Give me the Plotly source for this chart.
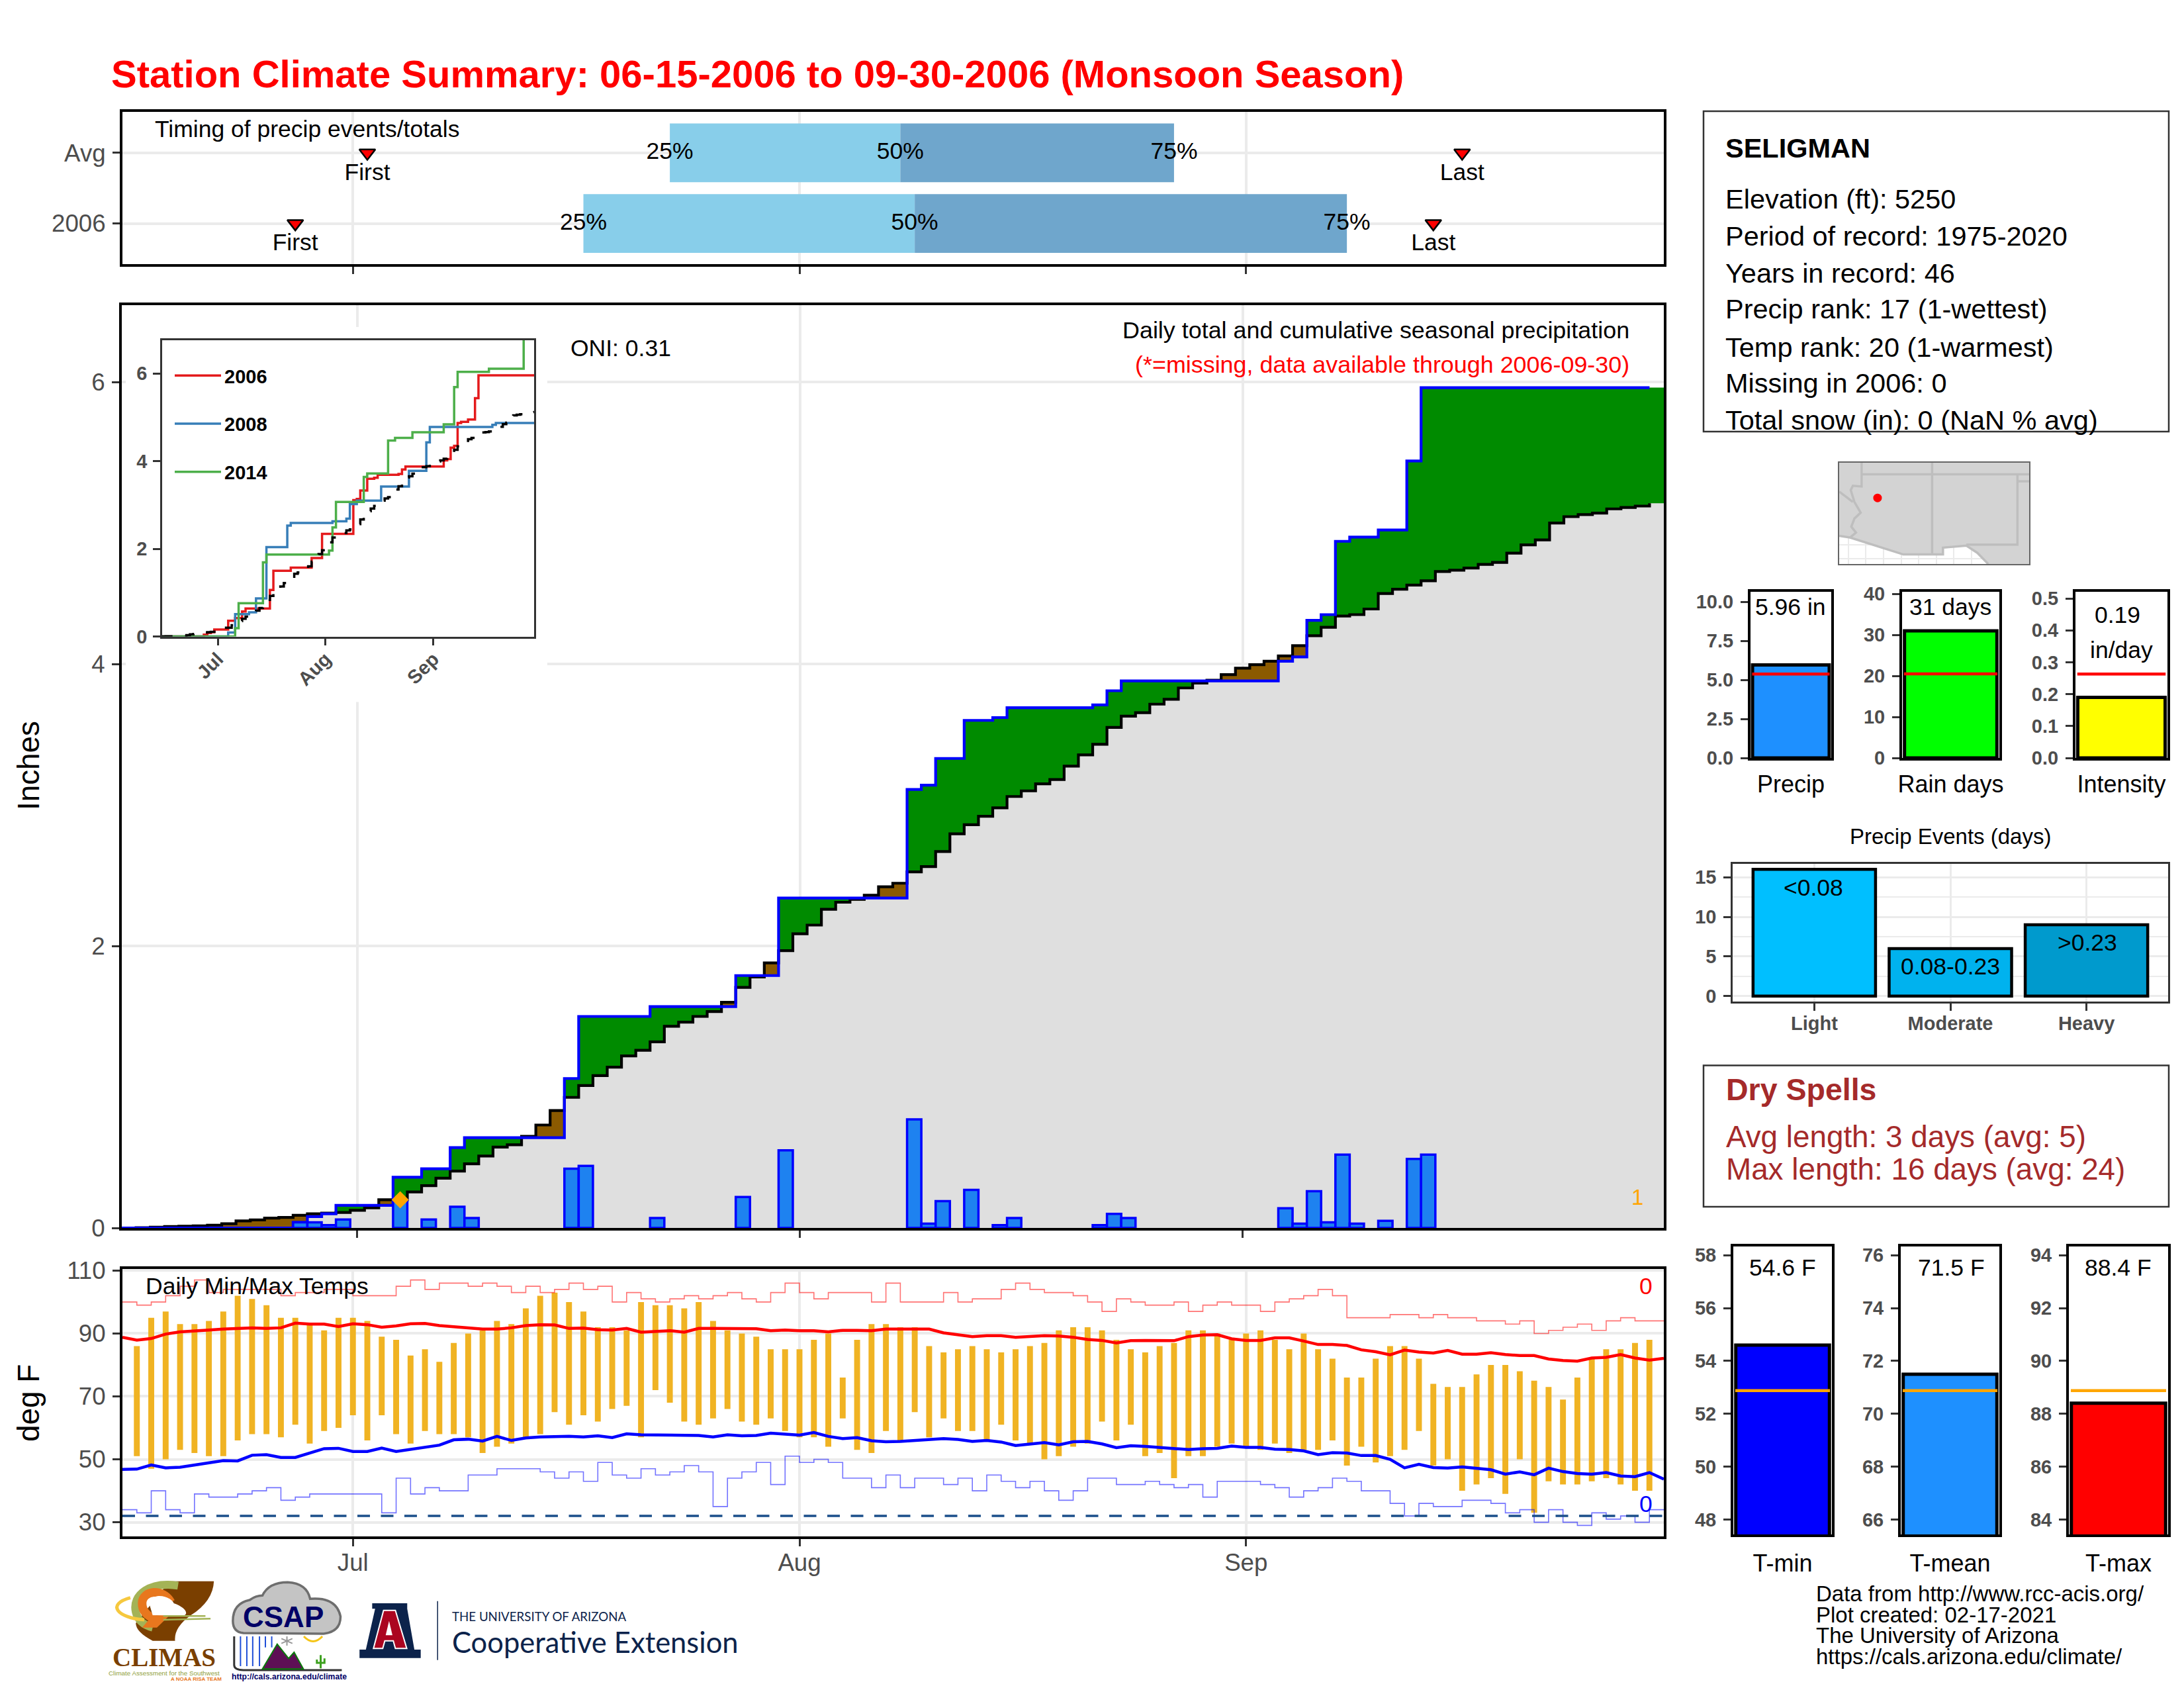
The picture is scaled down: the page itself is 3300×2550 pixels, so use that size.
import numpy as np
import plotly.graph_objects as go

W, H = 3300, 2550
PAGE_PAD_X = 7  # the page body adds about this much around the figure
PAGE_PAD_Y = 6
FONT = "Liberation Sans"
GREY = "#4D4D4D"
GRID = "#EBEBEB"

# ---- daily precip, 2006 (day 0 = Jun 15)
rain_days = [12, 13, 14, 15, 19, 21, 23, 24, 31, 32, 37, 43, 46, 55, 56, 57, 59, 61, 62, 68, 69, 70,
             81, 82, 83, 84, 85, 86, 88, 90, 91]
rain_amounts = [.04, .04, .02, .06, .20, .06, .15, .07, .42, .44, .07, .22, .55, .77, .03, .19, .27, .02, .07, .02, .10, .07,
                .14, .03, .26, .04, .52, .03, .05, .49, .52]

# ---- average cumulative precip
avg_cum = [0, .002, .005, .01, .012, .015, .02, .03, .05, .057, .07, .075, .09, .10, .105, .11, .125, .143, .20, .20,
           .255, .30, .353, .403, .455, .51, .573, .59, .65, .73, .833, .926, 1.01, 1.08, 1.14, 1.22, 1.26, 1.32, 1.43,
           1.46, 1.50, 1.535, 1.60, 1.706, 1.78, 1.88, 1.967, 2.086, 2.148, 2.26, 2.31, 2.33, 2.36, 2.42, 2.445, 2.525,
           2.563, 2.67, 2.795, 2.86, 2.92, 2.98, 3.06, 3.10, 3.15, 3.18, 3.275, 3.355, 3.43, 3.55, 3.63, 3.655, 3.715,
           3.75, 3.83, 3.865, 3.885, 3.925, 3.97, 3.995, 4.02, 4.057, 4.13, 4.20, 4.26, 4.34, 4.35, 4.39, 4.50, 4.53,
           4.56, 4.59, 4.656, 4.665, 4.68, 4.706, 4.72, 4.786, 4.845, 4.88, 5.0, 5.045, 5.06, 5.07, 5.10, 5.11, 5.12, 5.14]

# ---- other years for the inset
days_2008 = [0, 19, 21, 25, 27, 30, 36, 37, 49, 53, 54, 56, 63, 71, 76, 77, 95, 96, 107]
cum_2008 = [0, .09, .51, .55, .87, 2.04, 2.53, 2.59, 2.63, 2.69, 3.02, 3.10, 3.42, 3.78, 4.43, 4.78, 4.83, 4.87, 4.87]
days_2014 = [0, 21, 22, 29, 30, 48, 49, 50, 58, 59, 65, 67, 72, 81, 84, 85, 94, 104, 107]
cum_2014 = [0, .19, .76, 1.69, 1.87, 1.96, 2.49, 3.07, 3.64, 3.72, 4.47, 4.53, 4.66, 4.84, 5.69, 6.04, 6.11, 6.9, 6.9]

# ---- timing of events (day of season)
timing_rows = [1, 0]
q25 = [38, 32]
q50 = [54, 55]
q75 = [73, 85]
first_day = [17, 12]
last_day = [93, 91]

# ---- temps, days 1..106
tmax = [86, 95, 97, 93, 93, 94, 97, 102, 101, 99, 95, 95, 93, 91, 95, 95, 94, 89, 88, 83, 85, 81, 87, 90, 91, 94, 93, 98,
        102, 103, 100, 97, 92, 92, 91, 100, 99, 99, 98, 100, 94, 91, 90, 89, 85, 85, 85, 88, 90, 76, 88, 93, 93,
        92, 92, 86, 84, 85, 86, 85, 84, 85, 86, 87, 91, 92, 92, 91, 88, 85, 84, 86, 87, 91, 91, 90, 88, 90, 91, 88,
        85, 90, 85, 82, 76, 76, 82, 86, 86, 82, 74, 73, 73, 77, 80, 80, 78, 75, 73, 69, 76, 82, 85, 85, 87, 88]
tmin = [51, 47, 50, 53, 52, 51, 51, 56, 58, 58, 57, 61, 55, 59, 60, 64, 56, 64, 58, 55, 59, 58, 58, 57, 52, 54, 55, 57,
        58, 65, 61, 64, 62, 66, 67, 57, 72, 68, 62, 61, 63, 66, 62, 61, 63, 59, 57, 57, 54, 63, 53, 52, 59,
        56, 65, 57, 63, 59, 59, 56, 61, 56, 55, 50, 51, 54, 55, 62, 56, 61, 51, 52, 44, 51, 51, 54, 55, 54, 53, 55,
        52, 53, 53, 56, 48, 54, 49, 51, 53, 59, 48, 50, 40, 42, 44, 39, 50, 33, 43, 42, 42, 43, 44, 42, 40, 40]
mean_high = [88.8, 87.9, 88.4, 89.8, 90.5, 90.9, 91.1, 91.4, 91.5, 91.8, 91.6, 91.8, 93.3, 93.0, 93.0, 92.2, 93.1, 92.8,
             92.0, 92.4, 93.1, 93.2, 92.5, 92.1, 91.8, 91.4, 91.4, 91.8, 92.5, 92.8, 92.7, 91.6, 91.7, 91.2, 91.1, 91.6,
             90.4, 90.7, 90.9, 90.4, 91.6, 91.6, 91.6, 91.7, 91.5, 90.9, 91.1, 90.9, 90.9, 90.5, 91.0, 91.0, 90.9, 91.4,
             91.4, 91.4, 91.4, 90.2, 89.5, 89.0, 89.3, 89.3, 88.8, 89.1, 89.3, 89.2, 88.8, 88.1, 87.8, 87.0, 87.7, 87.8,
             87.8, 87.7, 89.0, 89.5, 89.6, 88.3, 87.8, 87.8, 88.6, 88.6, 87.6, 86.5, 86.5, 86.2, 84.8, 84.2, 83.2, 84.7,
             84.1, 83.8, 84.6, 83.4, 83.4, 83.9, 83.3, 83.0, 83.0, 81.9, 81.4, 81.2, 82.2, 82.4, 83.3, 82.2, 81.5, 82.1]
mean_low = [46.8, 46.9, 48.2, 47.3, 47.5, 48.2, 49.1, 49.6, 49.5, 51.3, 51.5, 50.6, 50.6, 51.9, 53.4, 53.5, 52.5, 52.5,
            53.6, 52.5, 53.2, 53.8, 54.5, 56.2, 56.4, 55.8, 57.3, 56.0, 56.8, 57.1, 57.3, 57.3, 57.1, 57.5, 56.9, 58.1,
            57.8, 57.8, 57.6, 57.8, 57.6, 57.1, 57.8, 57.5, 57.6, 58.3, 58.1, 57.7, 58.5, 57.3, 56.6, 56.9, 55.9, 55.6,
            55.7, 56.0, 56.2, 56.6, 56.3, 55.7, 56.0, 55.5, 54.4, 54.8, 55.3, 54.6, 55.6, 55.7, 54.9, 53.7, 54.3, 54.1,
            53.7, 53.4, 53.1, 53.4, 53.5, 54.2, 53.8, 53.8, 53.2, 53.1, 52.7, 51.5, 52.1, 52.0, 51.2, 51.2, 50.0, 47.3,
            48.4, 47.4, 47.2, 47.6, 47.2, 46.7, 45.3, 46.0, 45.1, 47.2, 46.1, 45.5, 45.3, 45.8, 44.7, 44.5, 45.8, 43.7]
rec_high = [100, 99, 100, 102, 105, 107, 103, 104, 104, 104, 104, 102, 103, 103, 104, 104, 102, 102, 102, 105, 107, 104,
            106, 106, 105, 106, 105, 103, 105, 103, 104, 106, 104, 105, 100, 103, 101, 100, 101, 102, 101, 102, 103, 101,
            100, 103, 106, 103, 101, 103, 103, 103, 100, 106, 100, 100, 100, 103, 100, 101, 101, 104, 106, 104, 103, 103,
            102, 100, 97, 101, 100, 99, 99, 100, 97, 99, 100, 99, 99, 97, 100, 101, 102, 104, 102, 95, 95, 95, 96, 96,
            95, 96, 95, 95, 94, 94, 93, 94, 90, 91, 92, 93, 91, 94, 95, 94, 94, 94]
rec_low = [34, 33, 40, 34, 33, 39, 38, 38, 39, 40, 41, 37, 38, 39, 39, 39, 39, 39, 33, 44, 39, 41, 40, 40, 45, 45, 47, 47,
           47, 46, 44, 46, 43, 49, 45, 44, 47, 45, 46, 48, 46, 35, 44, 46, 49, 42, 51, 49, 50, 49, 44, 44, 41, 45,
           41, 44, 44, 42, 44, 40, 45, 43, 41, 43, 40, 37, 40, 44, 44, 42, 42, 43, 42, 41, 42, 38, 43, 43, 43, 42, 41,
           38, 40, 41, 44, 43, 40, 40, 36, 32, 36, 35, 35, 37, 37, 36, 33, 34, 30, 34, 30, 29, 33, 31, 32, 30, 34, 34]
freezing = [32, 32]

# ---- summary bars: value, long term average
precip_total, precip_avg = 5.96, 5.38
raindays_total, raindays_avg = 31, 20.5
intensity_val, intensity_avg = 0.19, 0.263
event_names = ["Light", "Moderate", "Heavy"]
event_counts = [16, 6, 9]
event_labels = ["<0.08", "0.08-0.23", ">0.23"]
event_colors = ["#00BFFF", "#00B2EE", "#009ACD"]
temp_names = ["T-min", "T-mean", "T-max"]
temp_vals = [54.6, 71.5, 88.4]
temp_avgs = [52.88, 70.88, 88.88]
temp_colors = ["#0000FF", "#1E90FF", "#FF0000"]
temp_ranges = [[47.44, 58.33], [65.44, 76.33], [83.44, 94.33]]
temp_ticks = [[48, 50, 52, 54, 56, 58], [66, 68, 70, 72, 74, 76], [84, 86, 88, 90, 92, 94]]

# ---- locator map (lon / lat)
land_lon = [-115.64, -102.17, -102.17, -105.07, -105.84, -106.62, -108.28, -108.28, -111.09, -114.87, -115.64]
land_lat = [37.82, 37.82, 30.62, 30.62, 31.41, 31.92, 31.78, 31.30, 31.30, 32.50, 32.62]
border_lon = [-114.05, -102.17, None, -114.05, -114.05, -114.67, -114.82, -114.56, -114.12, -114.56, -114.78, -114.45, -114.87, None,
              -115.64, -114.67, None, -109.05, -109.05, None, -103.0, -103.0, -106.62, None, -103.0, -102.17, None,
              -115.64, -114.87, -111.09, -108.28, -108.28, -106.62, -105.84, -105.07]
border_lat = [37.0, 37.0, None, 37.82, 36.13, 36.18, 35.87, 35.03, 34.27, 33.85, 33.27, 32.85, 32.50, None,
              35.77, 35.03, None, 37.82, 31.33, None, 37.0, 32.0, 32.0, None, 36.5, 36.5, None,
              32.62, 32.50, 31.30, 31.30, 31.78, 31.92, 31.41, 30.62]
station_lon = [-112.92]
station_lat = [35.32]

assert len(avg_cum) == 108 and len(mean_high) == 108 and len(mean_low) == 108
assert len(rec_high) == 108 and len(rec_low) == 108 and len(tmax) == 106 and len(tmin) == 106

days = np.arange(108)
daily = np.zeros(108)
daily[rain_days] = rain_amounts
cum = np.cumsum(daily)
avg = np.array(avg_cum)
month_days = [16, 47, 78]
month_names = ["Jul", "Aug", "Sep"]
temp_days = days[1:107]

fig = go.Figure()


def px_x(x):
    return (x - PAGE_PAD_X) / W


def px_y(y):
    return 1 - (y - PAGE_PAD_Y) / H


def ax_name(n):
    return "" if n == 1 else str(n)


def panel(n, box, xr, yr, xopts=None, yopts=None):
    # box is left, right, top, bottom in page pixels
    left, right, top, bottom = box
    base = dict(anchor=None, showgrid=False, zeroline=False, showline=True, mirror=True,
                linecolor="black", linewidth=4, ticks="", showticklabels=False, tickcolor="#333333",
                tickwidth=3, ticklen=11, tickfont=dict(family=FONT, size=36.7, color=GREY))
    xa = dict(base, domain=[px_x(left), px_x(right)], range=xr, anchor="y" + ax_name(n), fixedrange=True)
    ya = dict(base, domain=[px_y(bottom), px_y(top)], range=yr, anchor="x" + ax_name(n), fixedrange=True)
    xa.update(xopts or {})
    ya.update(yopts or {})
    fig.update_layout(**{"xaxis" + ax_name(n): xa, "yaxis" + ax_name(n): ya})


def add(n, trace):
    trace.update(xaxis="x" + ax_name(n), yaxis="y" + ax_name(n))
    if trace.showlegend is None:
        trace.update(showlegend=False)
    fig.add_trace(trace)


notes = []
shapes = []


def note(text, x, y, size=35.5, color="black", anchor="center", bold=False, angle=0, family=FONT):
    notes.append(dict(text=text, x=px_x(x), y=px_y(y), xref="paper", yref="paper", showarrow=False,
                      xanchor=anchor, yanchor="middle", textangle=angle,
                      font=dict(family=family, size=size, color=color, weight=700 if bold else 400)))


month_axis = dict(tickmode="array", tickvals=month_days, ticktext=month_names, ticks="outside",
                  showgrid=True, gridcolor=GRID, gridwidth=3.5, ticklabelstandoff=-7)
value_axis = dict(tickmode="array", ticks="outside", showticklabels=True, showgrid=True, gridcolor=GRID, gridwidth=3.5,
                  ticklabelstandoff=3)

# ---- timing panel
panel(1, (184, 2513, 167, 397), [0, 107], [-0.575, 1.58], month_axis,
      dict(value_axis, tickvals=timing_rows, ticktext=["Avg", "2006"]))
add(1, go.Bar(y=timing_rows, x=np.array(q50) - np.array(q25), base=q25, orientation="h", width=0.83,
              marker=dict(color="#88CEEA", line_width=0)))
add(1, go.Bar(y=timing_rows, x=np.array(q75) - np.array(q50), base=q50, orientation="h", width=0.83,
              marker=dict(color="#6FA6CC", line_width=0)))
for q, lab in zip([q25, q50, q75], ["25%", "50%", "75%"]):
    add(1, go.Scatter(x=q, y=timing_rows, mode="text", text=[lab, lab], textposition="middle center",
                      textfont=dict(family=FONT, size=35.5, color="black")))
for d, lab in zip([first_day, last_day], ["First", "Last"]):
    add(1, go.Scatter(x=d, y=timing_rows, mode="markers+text", text=[lab, lab], textposition="bottom center",
                      textfont=dict(family=FONT, size=35.5, color="black"),
                      marker=dict(symbol="triangle-down", size=21, color="#FF0000", line=dict(color="black", width=2.5))))

# ---- cumulative precip panel
panel(2, (183, 2513, 459, 1853), [-0.5, 107.5], [0, 6.545], month_axis,
      dict(value_axis, tickvals=[0, 2, 4, 6], ticktext=["0", "2", "4", "6"]))
edges = days - 0.5
fill_x = np.append(edges, 107.5)
add(2, go.Scatter(x=fill_x, y=np.append(avg, avg[-1]), mode="none", fill="tozeroy", fillcolor="#8B5A00",
                  line_shape="hv"))
add(2, go.Scatter(x=fill_x, y=np.append(cum, cum[-1]), mode="none", fill="tozeroy", fillcolor="#008B00",
                  line_shape="hv"))
low_edge = np.minimum(avg, cum)
add(2, go.Scatter(x=fill_x, y=np.append(low_edge, low_edge[-1]), mode="none", fill="tozeroy", fillcolor="#DFDFDF",
                  line_shape="hv"))
add(2, go.Scatter(x=edges, y=avg, mode="lines", line=dict(color="black", width=4.2, shape="hv")))
add(2, go.Scatter(x=edges, y=cum, mode="lines", line=dict(color="#0000FF", width=4.2, shape="hv")))

# white backing behind the inset, hides the grid only
shapes.append(dict(type="rect", xref="x2", yref="y2", x0=-0.22, x1=29.3, y0=3.73, y1=6.39,
                   fillcolor="white", line_width=0, layer="between"))

# bars sit on an overlaying pair of axes, plotly puts bars under scatter fills otherwise
panel(13, (183, 2513, 459, 1853), [-0.5, 107.5], [0, 6.545],
      dict(overlaying="x2", visible=False), dict(overlaying="y2", visible=False))
add(13, go.Bar(x=rain_days, y=rain_amounts, width=1, marker=dict(color="#1E82F0", line=dict(color="#0000FF", width=3.5))))
add(13, go.Scatter(x=[19], y=[daily[19]], mode="markers", marker=dict(symbol="diamond", size=20, color="#FFA500")))

# ---- temperature panel
panel(3, (184, 2513, 1915, 2319), [0, 107], [25.5, 110.5],
      dict(month_axis, showticklabels=True),
      dict(value_axis, tickvals=[30, 50, 70, 90, 110], ticktext=["30", "50", "70", "90", "110"]))
add(3, go.Scatter(x=days, y=rec_high, mode="lines", line=dict(color="rgba(255,0,0,0.55)", width=1.6, shape="hv")))
add(3, go.Scatter(x=days, y=rec_low, mode="lines", line=dict(color="rgba(0,0,255,0.55)", width=1.6, shape="hv")))
add(3, go.Bar(x=temp_days, y=np.array(tmax) - np.array(tmin), base=tmin, width=0.41,
              marker=dict(color="#F0B323", line_width=0)))
add(3, go.Scatter(x=[0, 107], y=freezing, mode="lines", line=dict(color="#1B4F8A", width=3.5, dash="19px,16.5px")))
add(3, go.Scatter(x=days, y=mean_high, mode="lines", line=dict(color="#FF0000", width=4.5)))
add(3, go.Scatter(x=days, y=mean_low, mode="lines", line=dict(color="#0000FF", width=4.5)))

# ---- inset, other years
panel(4, (244, 806, 512, 959.5), [0, 107], [0, 6.76],
      dict(tickmode="array", tickvals=month_days, ticktext=month_names, ticks="outside", showticklabels=True,
           tickangle=-45, linecolor="#333333", linewidth=2.5, ticklabelstandoff=-8,
           tickfont=dict(family=FONT, size=29, color=GREY, weight=700)),
      dict(tickmode="array", tickvals=[0, 2, 4, 6], ticktext=["0", "2", "4", "6"], ticks="outside", showticklabels=True,
           linecolor="#333333", linewidth=2.5, ticklabelstandoff=3, tickfont=dict(family=FONT, size=29, color=GREY, weight=700)))
add(4, go.Scatter(x=days, y=cum, mode="lines", name="2006", showlegend=True, legendgroup="a",
                  line=dict(color="#E41A1C", width=3.5, shape="hv")))
add(4, go.Scatter(x=days_2008, y=cum_2008, mode="lines", name="2008", showlegend=True, legendgroup="b",
                  line=dict(color="#377EB8", width=3.5, shape="hv")))
add(4, go.Scatter(x=days_2014, y=cum_2014, mode="lines", name="2014", showlegend=True, legendgroup="c",
                  line=dict(color="#4DAF4A", width=3.5, shape="hv")))
add(4, go.Scatter(x=days, y=avg, mode="lines", line=dict(color="black", width=3.5, shape="hv", dash="16px,20px")))

# ---- locator map
panel(5, (2778, 3065, 697, 850), [-115.64, -102.17], [30.62, 37.82],
      dict(showgrid=True, gridcolor=GRID, gridwidth=1.5, dtick=1.25, tick0=-115, linecolor="#666666", linewidth=2),
      dict(showgrid=True, gridcolor=GRID, gridwidth=1.5, dtick=1, tick0=31, linecolor="#666666", linewidth=2))
add(5, go.Scatter(x=land_lon, y=land_lat, mode="none", fill="toself", fillcolor="#D3D3D3"))
add(5, go.Scatter(x=border_lon, y=border_lat, mode="lines", line=dict(color="#BEBEBE", width=3.5), connectgaps=False))
add(5, go.Scatter(x=station_lon, y=station_lat, mode="markers", marker=dict(color="#FF0000", size=13)))

# ---- small bars: one value, one average line
small_left = dict(tickmode="array", ticks="outside", showticklabels=True, ticklabelstandoff=5,
                  tickfont=dict(family=FONT, size=29, color=GREY, weight=700))


def one_bar(n, box, yr, name, value, mean, color, mean_color, ticks, fmt, label_gap=5):
    panel(n, box, [-0.5, 0.5], yr,
          dict(tickmode="array", tickvals=[0], ticktext=[name], ticks="outside", ticklen=label_gap, tickcolor="rgba(0,0,0,0)",
               showticklabels=True, tickfont=dict(family=FONT, size=36, color="black")),
          dict(small_left, tickvals=ticks, ticktext=[fmt % t for t in ticks]))
    add(n, go.Bar(x=[0], y=[value], width=0.95, marker=dict(color=color, line=dict(color="black", width=5))))
    add(n, go.Scatter(x=[-0.48, 0.48], y=[mean, mean], mode="lines", line=dict(color=mean_color, width=4.5)))


one_bar(6, (2644, 2766, 892, 1143), [0, 10.65], "Precip", precip_total, precip_avg, "#1E90FF", "#FF0000",
        [0, 2.5, 5, 7.5, 10], "%.1f")
one_bar(7, (2873, 3020, 892, 1143), [0, 40.5], "Rain days", raindays_total, raindays_avg, "#00FF00", "#FF0000",
        [0, 10, 20, 30, 40], "%d")
one_bar(8, (3135, 3274, 892, 1143), [0, 0.521], "Intensity", intensity_val, intensity_avg, "#FFFF00", "#FF0000",
        [0, .1, .2, .3, .4, .5], "%.1f")
note("5.96 in", 2704, 915)
note("31 days", 2946, 915)
note("0.19", 3198, 927)
note("in/day", 3204, 980)

# ---- precip events
panel(9, (2617, 3275, 1303, 1511), [-0.6, 2.6], [-0.7, 16.7],
      dict(tickmode="array", tickvals=[0, 1, 2], ticktext=event_names, ticks="outside", showticklabels=True,
           showgrid=True, gridcolor=GRID, gridwidth=3, linecolor="#333333", linewidth=2.5, ticklabelstandoff=-6,
           tickfont=dict(family=FONT, size=29, color=GREY, weight=700)),
      dict(small_left, tickvals=[0, 5, 10, 15], ticktext=["0", "5", "10", "15"], showgrid=True, gridcolor=GRID, gridwidth=3,
           linecolor="#333333", linewidth=2.5, minor=dict(dtick=2.5, showgrid=True, gridcolor=GRID, gridwidth=1.5)))
add(9, go.Bar(x=[0, 1, 2], y=event_counts, width=0.9,
              marker=dict(color=event_colors, line=dict(color="black", width=4.5))))
note("Precip Events (days)", 2946, 1261, size=33)
note(event_labels[0], 2739, 1339)
note(event_labels[1], 2946, 1458)
note(event_labels[2], 3153, 1422)

# ---- temp bars
temp_boxes = [(2618, 2767, 1881, 2316), (2871, 3020, 1881, 2316), (3125, 3275, 1881, 2316)]
for i in range(3):
    one_bar(10 + i, temp_boxes[i], temp_ranges[i], temp_names[i], temp_vals[i], temp_avgs[i], temp_colors[i], "#FFA500",
            temp_ticks[i], "%d", label_gap=9)
note("54.6 F", 2692, 1913)
note("71.5 F", 2947, 1913)
note("88.4 F", 3199, 1913)

# ---- page text
note("Station Climate Summary: 06-15-2006 to 09-30-2006 (Monsoon Season)", 165, 110, size=58, color="#FF0000",
     anchor="left", bold=True)
note("Timing of precip events/totals", 231, 193, anchor="left")
note("ONI: 0.31", 859, 524, anchor="left")
note("Daily total and cumulative seasonal precipitation", 2463, 497, size=35.9, anchor="right")
note("(*=missing, data available through 2006-09-30)", 2463, 549, size=35.9, color="#FF0000", anchor="right")
note("1", 2473, 1806, size=33, color="#FFA500")
note("Daily Min/Max Temps", 217, 1941, anchor="left")
note("0", 2486, 1941, color="#FF0000")
note("0", 2486, 2270, color="#0000FF")
note("Inches", 42, 1155, size=45.8, angle=-90)
note("deg F", 42, 2118, size=45.8, angle=-90)

# station box
shapes.append(dict(type="rect", xref="paper", yref="paper", x0=px_x(2573), x1=px_x(3276), y0=px_y(650), y1=px_y(166),
                   line=dict(color="#333333", width=2.5)))
station_lines = ["Elevation (ft): 5250", "Period of record: 1975-2020", "Years in record: 46", "Precip rank: 17 (1-wettest)",
                 "Temp rank: 20 (1-warmest)", "Missing in 2006: 0", "Total snow (in): 0 (NaN % avg)"]
note("SELIGMAN", 2604, 221, size=41.5, anchor="left", bold=True)
for yy, line in zip([299, 354, 410, 465, 522, 577, 632], station_lines):
    note(line, 2604, yy, size=41.5, anchor="left")

# dry spell box
shapes.append(dict(type="rect", xref="paper", yref="paper", x0=px_x(2573), x1=px_x(3276), y0=px_y(1821), y1=px_y(1607.5),
                   line=dict(color="#333333", width=2.5)))
note("Dry Spells", 2605, 1644, size=46.5, color="#A52A2A", anchor="left", bold=True)
note("Avg length: 3 days (avg: 5)", 2605, 1716, size=45.8, color="#A52A2A", anchor="left")
note("Max length: 16 days (avg: 24)", 2605, 1764, size=45.8, color="#A52A2A", anchor="left")

# credits
for yy, line in zip([2405, 2437, 2468, 2500], ["Data from http://www.rcc-acis.org/", "Plot created: 02-17-2021",
                                               "The University of Arizona", "https://cals.arizona.edu/climate/"]):
    note(line, 2741, yy, size=33, anchor="left")


# ---- logos, drawn by hand, coordinates are page pixels from the crop
def lx(z):
    return px_x(150 + z / 1.568)


def ly(z):
    return px_y(2340 + z / 3)


def logo_path(cmds, fill=None, color=None, width=0):
    out = []
    for c in cmds:
        if isinstance(c, str):
            out.append(c)
        else:
            out.append("%.5f %.5f" % (lx(c[0]), ly(c[1])))
    s = dict(type="path", xref="paper", yref="paper", path=" ".join(out), line=dict(color=color or "rgba(0,0,0,0)", width=width))
    if fill:
        s["fillcolor"] = fill
    shapes.append(s)


# CLIMAS
logo_path(["M", (165, 140), "L", (270, 140), "Q", (268, 230), (215, 295), "Q", (175, 350), (178, 410), "L", (125, 410),
           "Q", (85, 370), (85, 330), "Z"], fill="#7A3F00")
logo_path(["M", (185, 160), "C", (120, 140), (75, 200), (85, 280), "C", (90, 320), (105, 340), (125, 350)], color="#A4B356", width=12)
logo_path(["M", (168, 235), "C", (150, 170), (100, 180), (100, 240), "C", (100, 280), (115, 300), (130, 310)], color="#E8771E", width=13)
logo_path(["M", (115, 230), "C", (135, 185), (170, 215), (175, 240), "C", (205, 260), (215, 295), (190, 300), "L", (125, 295), "Z"], fill="white")
logo_path(["M", (72, 215), "C", (15, 245), (40, 305), (105, 315)], color="#F6C83E", width=5)
logo_path(["M", (125, 295), "L", (165, 295), "L", (135, 350), "L", (100, 350), "Z"], fill="#E8771E")
logo_path(["M", (150, 298), "L", (250, 298), "M", (150, 315), "L", (262, 310)], color="#A4B356", width=2.5)
note("CLIMAS", 150 + 152 / 1.568, 2340 + 485 / 3, size=39, color="#7A3F00", bold=True, family="Liberation Serif")
note("Climate Assessment for the Southwest", 150 + 152 / 1.568, 2340 + 555 / 3, size=9.8, color="#8FA03C")
note("A NOAA RISA TEAM", 150 + 228 / 1.568, 2340 + 582 / 3, size=8, color="#E8771E", bold=True)
# CSAP
logo_path(["M", (340, 375), "Q", (315, 370), (315, 320), "Q", (315, 240), (355, 225), "Q", (370, 205), (385, 205), "Q", (400, 145), (445, 145),
           "Q", (490, 150), (498, 220), "Q", (560, 210), (570, 300), "Q", (570, 370), (530, 378), "Z"], fill="#C4C4C4", color="#6E6E6E", width=3.5)
for zx in [333, 348, 362, 378, 392, 407]:
    logo_path(["M", (zx, 390), "L", (zx, 525 if zx < 380 else 440)], color="#1F4FD8", width=2)
logo_path(["M", (318, 390), "L", (318, 520), "Q", (318, 543), (340, 543), "L", (573, 543)], color="#333333", width=3)
logo_path(["M", (385, 538), "L", (420, 425), "L", (447, 490), "L", (460, 462), "L", (482, 538), "Z"], fill="#5E0F55", color="#0B7A0B", width=2)
logo_path(["M", (443, 390), "L", (443, 432), "M", (430, 400), "L", (456, 422), "M", (456, 400), "L", (430, 422)], color="#999999", width=2)
logo_path(["M", (483, 390), "Q", (505, 435), (527, 390)], color="#F5C518", width=3)
logo_path(["M", (523, 475), "L", (523, 535), "M", (514, 495), "L", (514, 510), "L", (532, 510), "L", (532, 490)], color="#3CA01E", width=3)
note("CSAP", 150 + 435 / 1.568, 2340 + 300 / 3, size=44, color="#000066", bold=True)
note("http://cals.arizona.edu/climate", 150 + 448 / 1.568, 2340 + 572 / 3, size=12.2, color="#000066", bold=True)
# UA block A
logo_path(["M", (645, 240), "L", (728, 240), "L", (728, 265), "L", (745, 450), "L", (760, 450), "L", (760, 488), "L", (615, 488), "L", (615, 450),
           "L", (630, 450), "L", (652, 265), "L", (645, 265), "Z"], fill="#0C234B")
logo_path(["M", (672, 272), "L", (700, 272), "L", (727, 445), "L", (700, 445), "L", (695, 410), "L", (675, 410), "L", (670, 445), "L", (648, 445), "Z"],
          fill="#AB0520", color="white", width=2)
logo_path(["M", (677, 385), "L", (693, 385), "L", (685, 320), "Z"], fill="white")
logo_path(["M", (800, 230), "L", (800, 497)], color="#0C234B", width=1.5)
note("THE UNIVERSITY OF ARIZONA", 680, 2440, size=18.7, color="#0C234B", anchor="left", family="Lato")
note("Cooperative Extension", 680, 2478, size=43.5, color="#0C234B", anchor="left", family="Lato")

fig.update_layout(width=W, height=H, margin=dict(l=0, r=0, t=0, b=0, autoexpand=False), autosize=False,
                  paper_bgcolor="white", plot_bgcolor="white", barmode="overlay",
                  font=dict(family=FONT, color="black"), annotations=notes, shapes=shapes,
                  legend=dict(x=px_x(258), y=px_y(540), xanchor="left", yanchor="top", bgcolor="rgba(0,0,0,0)", itemwidth=70,
                              tracegroupgap=32, font=dict(family=FONT, size=29, color="black", weight=700)))

fig.write_html("out.html")
